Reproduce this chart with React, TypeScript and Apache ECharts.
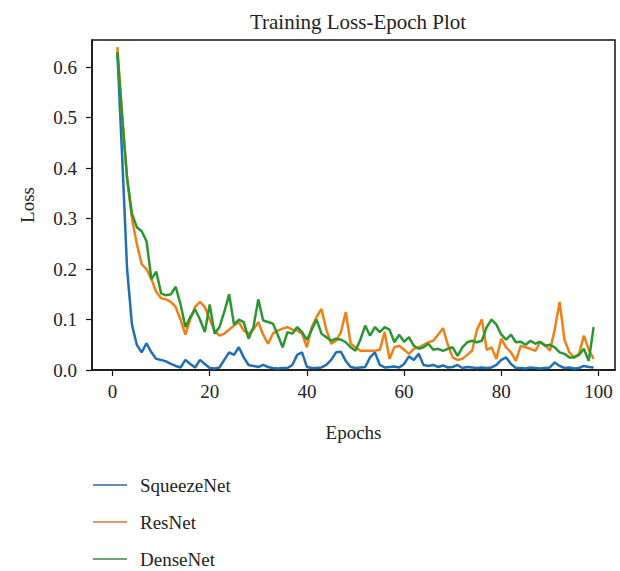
import React, { useEffect, useRef } from "react";
import * as echarts from "echarts";

const epochs: number[] = Array.from({ length: 99 }, (_, i) => i + 1);

const squeezeNet: number[] = [
  0.63, 0.42, 0.2, 0.09, 0.05, 0.035, 0.053, 0.035, 0.022, 0.02,
  0.017, 0.012, 0.008, 0.005, 0.02, 0.012, 0.005, 0.02, 0.012, 0.004,
  0.003, 0.005, 0.02, 0.035, 0.03, 0.045, 0.025, 0.01, 0.008, 0.006,
  0.01, 0.006, 0.004, 0.003, 0.004, 0.004, 0.01, 0.03, 0.035, 0.006,
  0.004, 0.004, 0.005, 0.01, 0.02, 0.035, 0.036, 0.018, 0.006, 0.004,
  0.005, 0.006, 0.025, 0.035, 0.01, 0.005, 0.006, 0.007, 0.005, 0.012,
  0.027, 0.02, 0.032, 0.01, 0.008, 0.01, 0.006, 0.009, 0.005, 0.006,
  0.01, 0.004, 0.006, 0.005, 0.004, 0.005, 0.004, 0.005, 0.01, 0.02,
  0.025, 0.012, 0.004, 0.004, 0.003, 0.005, 0.004, 0.003, 0.004, 0.005,
  0.015, 0.008, 0.004, 0.005, 0.003, 0.004, 0.008, 0.006, 0.005,
];

const resNet: number[] = [
  0.64, 0.5, 0.38, 0.3, 0.25, 0.21, 0.2, 0.18, 0.155, 0.142,
  0.14, 0.135, 0.125, 0.1, 0.07, 0.1, 0.125, 0.135, 0.125, 0.1,
  0.078, 0.068, 0.072, 0.08, 0.088, 0.095, 0.078, 0.072, 0.08, 0.095,
  0.07, 0.052, 0.072, 0.078, 0.082, 0.085, 0.08, 0.078, 0.072, 0.045,
  0.085, 0.105, 0.121, 0.08, 0.052, 0.058, 0.075, 0.115, 0.052, 0.045,
  0.038, 0.038, 0.038, 0.038, 0.04, 0.075, 0.022, 0.045, 0.048, 0.04,
  0.032, 0.042, 0.045, 0.05, 0.055, 0.058, 0.07, 0.083, 0.05, 0.025,
  0.02, 0.022, 0.03, 0.038, 0.08, 0.1, 0.04, 0.045, 0.022, 0.062,
  0.045, 0.035, 0.018, 0.048, 0.045, 0.042, 0.038, 0.055, 0.05, 0.038,
  0.08, 0.135, 0.06, 0.035, 0.025, 0.032, 0.068, 0.04, 0.022,
];

const denseNet: number[] = [
  0.63, 0.5, 0.38, 0.31, 0.283, 0.275, 0.255, 0.18, 0.195, 0.152,
  0.148, 0.15, 0.165, 0.13, 0.085, 0.105, 0.12, 0.1, 0.075, 0.13,
  0.072, 0.085, 0.115, 0.15, 0.09, 0.1, 0.095, 0.062, 0.085, 0.14,
  0.098, 0.095, 0.092, 0.07, 0.045, 0.075, 0.072, 0.085, 0.075, 0.06,
  0.08, 0.1, 0.072, 0.065, 0.058, 0.062, 0.06, 0.055, 0.045, 0.038,
  0.06, 0.088, 0.068, 0.085, 0.075, 0.085, 0.08, 0.055, 0.07, 0.056,
  0.065, 0.048, 0.042, 0.045, 0.052, 0.04, 0.042, 0.038, 0.042, 0.045,
  0.028, 0.045, 0.055, 0.058, 0.055, 0.058, 0.085, 0.1, 0.09, 0.07,
  0.06, 0.07, 0.055, 0.056, 0.05, 0.058, 0.052, 0.056, 0.048, 0.05,
  0.045, 0.035, 0.032, 0.025, 0.025, 0.03, 0.042, 0.018, 0.085,
];

const xTicks: number[] = [0, 20, 40, 60, 80, 100];
const yTicks: number[] = [0, 0.1, 0.2, 0.3, 0.4, 0.5, 0.6];

const seriesNames = ["SqueezeNet", "ResNet", "DenseNet"];
const lineColors = ["#1f6fb2", "#f07f16", "#2a9630"];
const legendColors = ["#3563a9", "#e0703a", "#3e8a55"];

const FONT = "'Liberation Serif', 'DejaVu Serif', serif";

export default function App() {
  const ref = useRef<HTMLDivElement>(null);

  useEffect(() => {
    if (!ref.current) return;
    const chart = echarts.init(ref.current, undefined, { renderer: "svg" });
    const datasets = [squeezeNet, resNet, denseNet];
    chart.setOption({
      animation: false,
      backgroundColor: "#ffffff",
      textStyle: { fontFamily: FONT },
      title: {
        text: "Training Loss-Epoch Plot",
        left: 353,
        top: 6,
        textAlign: "center",
        textStyle: { fontFamily: FONT, fontSize: 21, fontWeight: "normal", color: "#222" },
      },
      legend: {
        orient: "vertical",
        left: 88,
        top: 470,
        height: 100,
        padding: 5,
        icon: "rect",
        itemWidth: 34,
        itemHeight: 1.5,
        itemGap: 17,
        textStyle: { fontFamily: FONT, fontSize: 19, color: "#222", lineHeight: 20, padding: [0, 0, 0, 8] },
        data: seriesNames.map((n, i) => ({ name: n, itemStyle: { color: legendColors[i] } })),
      },
      grid: {
        left: 92,
        right: 5,
        top: 40,
        bottom: 201,
        show: true,
        borderColor: "#111",
        borderWidth: 1.5,
        backgroundColor: "transparent",
      },
      xAxis: {
        type: "value",
        min: -4.22,
        max: 103.4,
        name: "Epochs",
        nameLocation: "middle",
        nameGap: 53,
        nameTextStyle: { fontFamily: FONT, fontSize: 19, color: "#222" },
        splitLine: { show: false },
        axisLine: { show: true, onZero: false, lineStyle: { color: "#111", width: 1.5 } },
        axisTick: { show: true, length: 6, customValues: xTicks, lineStyle: { color: "#111", width: 1.2 } },
        axisLabel: {
          customValues: xTicks,
          margin: 12,
          fontFamily: FONT,
          fontSize: 19,
          color: "#222",
          formatter: (v: number) => String(Math.round(v)),
        },
      },
      yAxis: {
        type: "value",
        min: 0,
        max: 0.654,
        name: "Loss",
        nameLocation: "middle",
        nameRotate: 90,
        nameGap: 55,
        nameTextStyle: { fontFamily: FONT, fontSize: 19, color: "#222" },
        splitLine: { show: false },
        axisLine: { show: true, onZero: false, lineStyle: { color: "#111", width: 1.5 } },
        axisTick: { show: true, length: 6, customValues: yTicks, lineStyle: { color: "#111", width: 1.2 } },
        axisLabel: {
          customValues: yTicks,
          margin: 15,
          fontFamily: FONT,
          fontSize: 19,
          color: "#222",
          formatter: (v: number) => v.toFixed(1),
        },
      },
      series: seriesNames.map((n, i) => ({
        name: n,
        type: "line",
        symbol: "none",
        color: lineColors[i],
        lineStyle: { color: lineColors[i], width: 2.5 },
        data: epochs.map((e, j) => [e, datasets[i][j]]),
        z: 2 + i,
      })),
    });
    return () => chart.dispose();
  }, []);

  return (
    <div
      ref={ref}
      style={{ position: "fixed", left: 0, top: 0, width: 620, height: 571, background: "#fff" }}
    />
  );
}
